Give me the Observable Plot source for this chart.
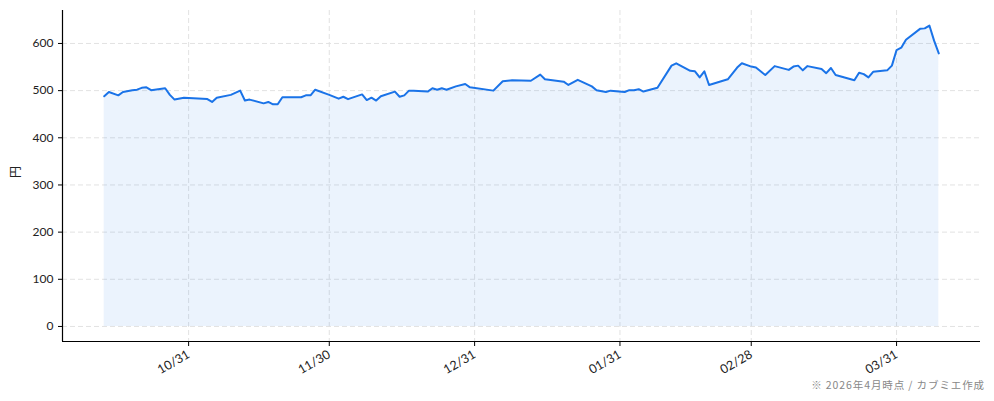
<!DOCTYPE html>
<html>
<head>
<meta charset="utf-8">
<script src="https://cdn.jsdelivr.net/npm/d3@7"></script>
<script src="https://cdn.jsdelivr.net/npm/@observablehq/plot@0.6"></script>
<style>
  html, body { margin: 0; padding: 0; background: #fff; }
  #wrap { position: relative; width: 994px; height: 401px; }
  #caption { position: absolute; right: 9px; top: 377px; font: 10.5px "Noto Sans CJK JP", "Noto Sans", sans-serif; color: #888; letter-spacing: 0.9px; }
</style>
</head>
<body>
<div id="wrap"><div id="chart"></div><div id="caption">※ 2026年4月時点 / カブミエ作成</div></div>
<script>
const dates = [
  "2025-10-13","2025-10-14","2025-10-16","2025-10-17","2025-10-19","2025-10-20","2025-10-21","2025-10-22","2025-10-23","2025-10-26",
  "2025-10-27","2025-10-28","2025-10-30","2025-11-04","2025-11-05","2025-11-06","2025-11-09","2025-11-11","2025-11-12","2025-11-13",
  "2025-11-16","2025-11-17","2025-11-18","2025-11-19","2025-11-20","2025-11-24","2025-11-25","2025-11-26","2025-11-27","2025-11-30",
  "2025-12-02","2025-12-03","2025-12-04","2025-12-07","2025-12-08","2025-12-09","2025-12-10","2025-12-11","2025-12-14","2025-12-15",
  "2025-12-16","2025-12-17","2025-12-18","2025-12-21","2025-12-22","2025-12-23","2025-12-24","2025-12-25","2025-12-27","2025-12-29",
  "2025-12-30","2026-01-04","2026-01-06","2026-01-08","2026-01-12","2026-01-14","2026-01-15","2026-01-19","2026-01-20","2026-01-22",
  "2026-01-25","2026-01-26","2026-01-28","2026-01-29","2026-02-01","2026-02-02","2026-02-03","2026-02-04","2026-02-05","2026-02-08",
  "2026-02-11","2026-02-12","2026-02-15","2026-02-16","2026-02-17","2026-02-18","2026-02-19","2026-02-23","2026-02-25","2026-02-26",
  "2026-02-28","2026-03-01","2026-03-03","2026-03-05","2026-03-08","2026-03-09","2026-03-10","2026-03-11","2026-03-12","2026-03-15",
  "2026-03-16","2026-03-17","2026-03-18","2026-03-22","2026-03-23","2026-03-24","2026-03-25","2026-03-26","2026-03-29","2026-03-30",
  "2026-03-31","2026-04-01","2026-04-02","2026-04-05","2026-04-06","2026-04-07","2026-04-08","2026-04-09"
];
const prices = [
  488,497,490,497,501,502,506,507,501,505,
  491,481,485,482,476,485,491,500,479,481,
  473,476,471,471,486,486,490,490,502,491,
  483,487,482,492,480,485,479,488,498,487,
  490,500,500,498,505,502,505,502,509,514,
  507,500,520,522,521,534,524,519,512,523,
  509,501,497,500,497,501,501,503,498,506,
  553,558,542,541,528,541,512,524,549,558,
  551,549,533,552,544,551,553,543,552,546,
  537,548,533,522,538,535,528,540,543,553,
  586,591,608,631,632,638,606,579
];
const tickDates = ["2025-10-31","2025-11-30","2025-12-31","2026-01-31","2026-02-28","2026-03-31"];
const tickLabels = ["10/31","11/30","12/31","01/31","02/28","03/31"];
const yTicks = [0,100,200,300,400,500,600];
const yLabel = "円";

const parse = d3.utcParse("%Y-%m-%d");
const data = dates.map((d, i) => ({date: parse(d), price: prices[i]}));
const xTicks = tickDates.map(parse);
const labelOf = new Map(xTicks.map((d, i) => [+d, tickLabels[i]]));

const t0 = data[0].date, t1 = data[data.length - 1].date;
const span = t1 - t0;
const xDomain = [new Date(+t0 - span * 0.05), new Date(+t1 + span * 0.05)];
const maxP = d3.max(prices);
const yDomain = [-maxP * 0.05, maxP * 1.05];

const font = "Lato, 'Noto Sans', sans-serif";
const chart = Plot.plot({
  width: 994,
  height: 401,
  marginLeft: 62,
  marginRight: 14,
  marginTop: 10,
  marginBottom: 60,
  style: {fontFamily: font, fontSize: "12px", color: "#222", background: "#fff"},
  x: {type: "utc", domain: xDomain, label: null},
  y: {domain: yDomain, label: null},
  marks: [
    Plot.gridY(yTicks, {stroke: "#e2e2e2", strokeOpacity: 1, strokeDasharray: "5,3"}),
    Plot.gridX(xTicks, {stroke: "#e2e2e2", strokeOpacity: 1, strokeDasharray: "5,3"}),
    Plot.areaY(data, {x: "date", y: "price", fill: "#1a73e8", fillOpacity: 0.085}),
    Plot.lineY(data, {x: "date", y: "price", stroke: "#1a73e8", strokeWidth: 2}),
    Plot.ruleX([xDomain[0]], {stroke: "#000", strokeWidth: 1.2}),
    Plot.ruleY([yDomain[0]], {stroke: "#000", strokeWidth: 1.2}),
    Plot.axisY(yTicks, {tickSize: 4, tickPadding: 5, stroke: "#000", fill: "#222", label: null, fontSize: 12}),
    Plot.axisX(xTicks, {tickSize: 5, tickPadding: 7, tickRotate: -30, stroke: "#000", fill: "#222", label: null,
      tickFormat: d => labelOf.get(+d), fontSize: 12.5}),
    Plot.text([yLabel], {frameAnchor: "left", dx: -46, dy: 2, rotate: -90, fontSize: 12, fill: "#222", fontFamily: "'Noto Sans CJK JP', sans-serif"})
  ]
});
document.getElementById("chart").appendChild(chart);
</script>
</body>
</html>
